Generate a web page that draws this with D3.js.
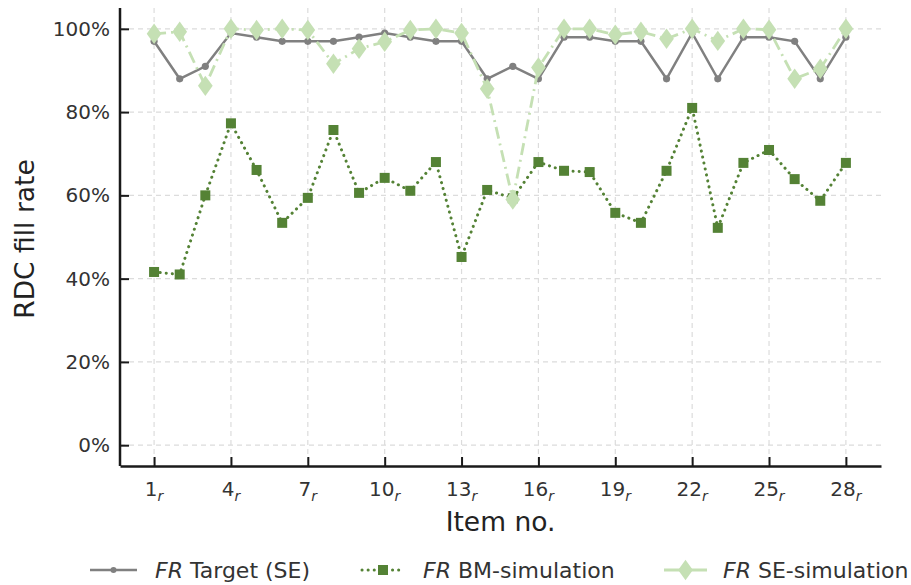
<!DOCTYPE html>
<html>
<head>
<meta charset="utf-8">
<script src="https://cdn.jsdelivr.net/npm/d3@7/dist/d3.min.js"></script>
<style>
  body { margin: 0; background: #fff; }
  svg { font-family: "DejaVu Sans", sans-serif; }
</style>
</head>
<body>
<svg id="chart" width="911" height="585"></svg>
<script>
// item numbers 1..28
const items = [1,2,3,4,5,6,7,8,9,10,11,12,13,14,15,16,17,18,19,20,21,22,23,24,25,26,27,28];
const xTicks = [1,4,7,10,13,16,19,22,25,28];
const yTicks = [0,0.2,0.4,0.6,0.8,1.0];

const targetSE = [0.97,0.88,0.91,0.99,0.98,0.97,0.97,0.97,0.98,0.99,0.98,0.97,0.97,0.88,
                  0.91,0.88,0.98,0.98,0.97,0.97,0.88,0.99,0.88,0.98,0.98,0.97,0.88,0.98];
const bmSim = [0.416,0.410,0.600,0.773,0.661,0.534,0.594,0.757,0.606,0.642,0.611,0.680,0.452,0.613,
               0.593,0.680,0.659,0.656,0.558,0.534,0.659,0.810,0.522,0.678,0.709,0.639,0.587,0.678];
const seSim = [0.988,0.993,0.863,1.0,0.997,1.0,0.997,0.916,0.952,0.969,0.997,1.0,0.990,0.856,
               0.590,0.907,1.0,1.0,0.986,0.993,0.976,1.0,0.971,1.0,0.998,0.880,0.904,1.0];

const svg = d3.select("#chart");
const mLeft = 120, mRight = 881, mTop = 8, mBottom = 466;

const x = d3.scaleLinear().domain([-0.33, 29.37]).range([mLeft, mRight]);
const y = d3.scaleLinear().domain([-0.05, 1.05]).range([mBottom, mTop]);

const textColor = "#333";

// grid
const grid = svg.append("g");
grid.selectAll(".gx").data(xTicks).enter().append("line")
  .attr("x1", d => x(d)).attr("x2", d => x(d))
  .attr("y1", mTop).attr("y2", mBottom)
  .attr("stroke", "#dcdcdc").attr("stroke-width", 1.2).attr("stroke-dasharray", "5,4");
grid.selectAll(".gy").data(yTicks).enter().append("line")
  .attr("x1", mLeft).attr("x2", mRight)
  .attr("y1", d => y(d)).attr("y2", d => y(d))
  .attr("stroke", "#dcdcdc").attr("stroke-width", 1.2).attr("stroke-dasharray", "5,4");

// axes
const xAxis = svg.append("g").attr("transform", `translate(0,${mBottom})`)
  .call(d3.axisBottom(x).tickValues(xTicks).tickSizeInner(-9).tickSizeOuter(0).tickFormat(""));
xAxis.select(".domain").attr("stroke", "#1a1a1a").attr("stroke-width", 2.5);
xAxis.selectAll(".tick line").attr("stroke", "#1a1a1a").attr("stroke-width", 2);

const xl = svg.append("g");
xTicks.forEach(t => {
  const tx = xl.append("text").attr("x", x(t)).attr("y", 496)
    .attr("text-anchor", "middle").attr("font-size", 20).attr("fill", textColor);
  tx.append("tspan").text(t);
  tx.append("tspan").attr("font-style", "italic").attr("font-size", 14).attr("dy", 5).text("r");
});

const yAxis = svg.append("g").attr("transform", `translate(${mLeft},0)`)
  .call(d3.axisLeft(y).tickValues(yTicks).tickSizeInner(-9).tickSizeOuter(0).tickPadding(10)
    .tickFormat(d => Math.round(d * 100) + "%"));
yAxis.select(".domain").attr("stroke", "#1a1a1a").attr("stroke-width", 2.5)
  .attr("d", `M0,${mTop}V${mBottom}`);
yAxis.selectAll(".tick line").attr("stroke", "#1a1a1a").attr("stroke-width", 2);
yAxis.selectAll(".tick text").attr("font-size", 20).attr("fill", textColor)
  .attr("x", -10).attr("font-family", "DejaVu Sans");

// axis titles
svg.append("text").attr("x", (mLeft + mRight) / 2).attr("y", 531)
  .attr("text-anchor", "middle").attr("font-size", 26.5).attr("fill", "#222").text("Item no.");
svg.append("text").attr("transform", `translate(34,${(mTop + mBottom) / 2 + 2}) rotate(-90)`)
  .attr("text-anchor", "middle").attr("font-size", 26.5).attr("fill", "#222").text("RDC fill rate");

// series
const gray = "#808080", dark = "#548235", light = "#c5e0b4";
const line = d3.line().x((d, i) => x(items[i])).y(d => y(d));

svg.append("path").datum(targetSE).attr("d", line)
  .attr("fill", "none").attr("stroke", gray).attr("stroke-width", 2.5);
svg.selectAll(".pt").data(targetSE).enter().append("circle")
  .attr("cx", (d, i) => x(items[i])).attr("cy", d => y(d)).attr("r", 3.6).attr("fill", gray);

svg.append("path").datum(bmSim).attr("d", line)
  .attr("fill", "none").attr("stroke", dark).attr("stroke-width", 3)
  .attr("stroke-dasharray", "0.1,6").attr("stroke-linecap", "round");
svg.selectAll(".sq").data(bmSim).enter().append("rect")
  .attr("x", (d, i) => x(items[i]) - 5).attr("y", d => y(d) - 5)
  .attr("width", 10).attr("height", 10).attr("fill", dark);

const diamond = d3.symbol().type(d3.symbolDiamond).size(120);
svg.append("path").datum(seSim).attr("d", line)
  .attr("fill", "none").attr("stroke", light).attr("stroke-width", 2.8)
  .attr("stroke-dasharray", "12,5,2,5");
svg.selectAll(".dm").data(seSim).enter().append("path")
  .attr("d", diamond)
  .attr("transform", (d, i) => `translate(${x(items[i])},${y(d)}) scale(1.25,1)`)
  .attr("fill", light);

// legend
const legendY = 570;
const legend = [
  {name: " Target (SE)", x0: 90, x1: 137, tx: 155},
  {name: " BM-simulation", x0: 362, x1: 404, tx: 423},
  {name: " SE-simulation", x0: 664, x1: 707, tx: 723}
];
const lg = svg.append("g");
// gray
lg.append("line").attr("x1", legend[0].x0).attr("x2", legend[0].x1).attr("y1", legendY).attr("y2", legendY)
  .attr("stroke", gray).attr("stroke-width", 2.5);
lg.append("circle").attr("cx", (legend[0].x0 + legend[0].x1) / 2).attr("cy", legendY).attr("r", 3).attr("fill", gray);
// dark
lg.append("line").attr("x1", legend[1].x0).attr("x2", legend[1].x1).attr("y1", legendY).attr("y2", legendY)
  .attr("stroke", dark).attr("stroke-width", 3).attr("stroke-dasharray", "0.1,6").attr("stroke-linecap", "round");
lg.append("rect").attr("x", (legend[1].x0 + legend[1].x1) / 2 - 5).attr("y", legendY - 5)
  .attr("width", 10).attr("height", 10).attr("fill", dark);
// light
lg.append("line").attr("x1", legend[2].x0).attr("x2", legend[2].x1).attr("y1", legendY).attr("y2", legendY)
  .attr("stroke", light).attr("stroke-width", 2.8);
lg.append("path").attr("d", diamond)
  .attr("transform", `translate(${(legend[2].x0 + legend[2].x1) / 2},${legendY}) scale(1.25,1)`)
  .attr("fill", light);

legend.forEach(l => {
  const t = lg.append("text").attr("x", l.tx).attr("y", legendY + 8)
    .attr("font-size", 22).attr("fill", textColor);
  t.append("tspan").attr("font-style", "italic").text("FR");
  t.append("tspan").text(l.name);
});
</script>
</body>
</html>
